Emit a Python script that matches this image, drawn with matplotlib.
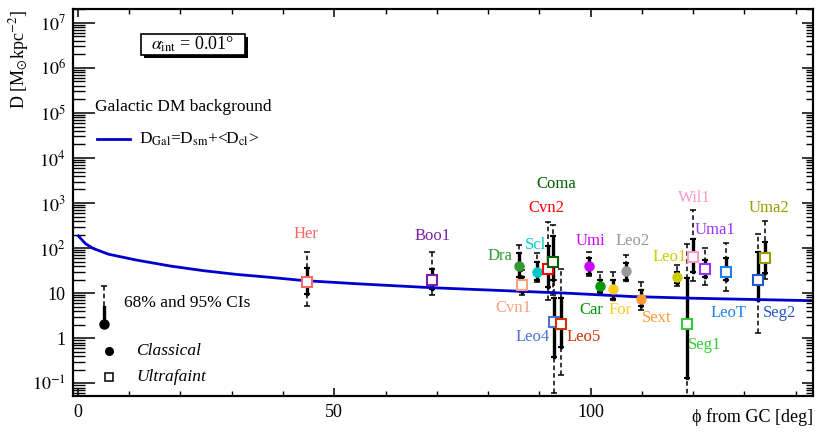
import numpy as np
import matplotlib
matplotlib.use("Agg")
import matplotlib.pyplot as plt
from matplotlib.lines import Line2D
from matplotlib.patches import Rectangle
from matplotlib.ticker import FixedLocator, FixedFormatter, NullFormatter

plt.rcParams['font.family'] = ['Liberation Serif', 'DejaVu Serif']
plt.rcParams['mathtext.fontset'] = 'stix'

# ---------------- data ----------------
gal_phi = [0.1, 1.5, 3, 6, 11.5, 18, 24.5, 31, 37.5, 44, 55, 69, 77, 96, 108, 120, 143]
gal_D = [186, 125, 98, 73, 54, 40, 31.5, 26, 22.4, 19, 16, 13.2, 12.1, 9.9, 8.4, 7.7, 6.8]

cl_names = ['Dra', 'Scl', 'Umi', 'Car', 'For', 'Leo2', 'Sext', 'Leo1']
cl_phi = [86.0, 89.5, 99.7, 101.9, 104.4, 106.9, 109.9, 116.9]
cl_D = [40, 29.4, 40, 14.4, 12.1, 31, 7.4, 22.4]
cl_lo68 = [23, 19.5, 27, 10.7, 7.4, 20, 5.2, 16.5]
cl_hi68 = [76, 49, 59, 19.5, 19.5, 46, 11.7, 30]
cl_lo95 = [20, 17.3, 24, 9.6, 7.0, 18.5, 4.2, 14.6]
cl_hi95 = [116, 76, 80, 29, 30, 69, 17.3, 43]
cl_colors = ['#339933', '#00C8C8', '#CC00FF', '#009900', '#FFCC22', '#999999', '#FF9933', '#CCCC00']

uf_names = ['Her', 'Boo1', 'Cvn1', 'Cvn2', 'Coma', 'Leo4', 'Leo5', 'Seg1', 'Wil1', 'Uma1', 'LeoT', 'Seg2', 'Uma2']
uf_phi = [44.6, 69.1, 86.7, 91.6, 92.7, 92.8, 94.2, 118.8, 119.9, 122.3, 126.4, 132.7, 134.0]
uf_D = [17.9, 19.2, 15.4, 34, 48, 2.26, 2.1, 2.04, 62, 34, 29.4, 19.5, 59]
uf_lo68 = [9.5, 12.3, 10.5, 14, 20, 0.39, 0.65, 0.13, 30, 22.4, 19.5, 7.0, 28]
uf_hi68 = [36.5, 34, 23, 110, 190, 7.7, 7.7, 22, 163, 54, 59, 80, 137]
uf_lo95 = [5.2, 9.1, 9.0, 7, 9, 0.06, 0.155, 0.04, 18.5, 15, 11.3, 1.29, 21]
uf_hi95 = [83, 80, 32, 380, 330, 20, 35, 126, 690, 100, 131, 204, 400]
uf_colors = ['#FF6666', '#7A1FA0', '#FFA07A', '#FF0000', '#006000', '#4A70D0', '#CC3300',
             '#33CC33', '#FF99CC', '#9933FF', '#1E80F0', '#2255CC', '#999900']

ytick_vals = [1e-1, 1, 10, 1e2, 1e3, 1e4, 1e5, 1e6, 1e7]
ytick_labels = ['$10^{-1}$', '1', '10', '$10^{2}$', '$10^{3}$', '$10^{4}$', '$10^{5}$', '$10^{6}$', '$10^{7}$']
xtick_vals = [0, 50, 100]
xtick_labels = ['0', '50', '100']

# label positions (pixels in figure)
label_px = {
    'Her': (306, 233.5), 'Boo1': (433, 236.5), 'Dra': (500, 256), 'Scl': (536, 245),
    'Coma': (556, 184.5), 'Cvn2': (546, 208), 'Umi': (590, 241), 'Leo2': (632.5, 241),
    'Cvn1': (513, 308), 'Leo4': (532.5, 337), 'Leo5': (583.5, 337), 'Car': (591, 310),
    'For': (620, 310), 'Sext': (656.5, 318), 'Leo1': (669.5, 257), 'Wil1': (694.5, 198),
    'Uma1': (715.5, 230), 'Uma2': (769, 208), 'Seg1': (705, 345), 'LeoT': (729, 313),
    'Seg2': (779.5, 313),
}

W, H = 830, 438
fig = plt.figure(figsize=(W / 100, H / 100), dpi=100)
L, R, T, B = 72.7, 812.7, 9.3, 396
ax = fig.add_axes([L / W, 1 - B / H, (R - L) / W, (B - T) / H])

def fp(x, y):
    return (x / W, 1 - y / H)

ax.set_xlim(-1, 143.3)
ax.set_yscale('log')
ax.set_ylim(0.052, 2.0e7)

# curve
ax.plot(gal_phi, gal_D, color='#0000CC', lw=2.0, zorder=3)

def draw_points(phi, D, lo68, hi68, lo95, hi95, colors, kind):
    for i in range(len(phi)):
        x = phi[i]
        ax.plot([x, x], [lo95[i], hi95[i]], color='black', lw=1.1, ls=(0, (3, 2)), zorder=2)
        ax.plot([x], [lo95[i]], marker='_', color='black', ms=4, mew=1.1, zorder=2)
        ax.plot([x], [hi95[i]], marker='_', color='black', ms=4, mew=1.1, zorder=2)
        ax.plot([x, x], [lo68[i], hi68[i]], color='black', lw=2.4, zorder=2.5)
        ax.plot([x], [lo68[i]], marker='_', color='black', ms=4, mew=1.5, zorder=2.5)
        ax.plot([x], [hi68[i]], marker='_', color='black', ms=4, mew=1.5, zorder=2.5)
        if kind == 'c':
            ax.plot([x], [D[i]], marker='o', ms=6.5, color=colors[i], mec=colors[i], zorder=5)
        else:
            ax.plot([x], [D[i]], marker='s', ms=6.5, mfc='white', mec=colors[i], mew=1.5, zorder=5)

draw_points(cl_phi, cl_D, cl_lo68, cl_hi68, cl_lo95, cl_hi95, cl_colors, 'c')
draw_points(uf_phi, uf_D, uf_lo68, uf_hi68, uf_lo95, uf_hi95, uf_colors, 'u')

for names, colors in ((cl_names, cl_colors), (uf_names, uf_colors)):
    for n, c in zip(names, colors):
        px, py = label_px[n]
        fx, fy = fp(px, py)
        fig.text(fx, fy, n, color=c, fontsize=12, ha='center', va='center')

# axes styling
for s in ax.spines.values():
    s.set_linewidth(1.5)
ax.yaxis.set_major_locator(FixedLocator(ytick_vals))
ax.yaxis.set_major_formatter(FixedFormatter(ytick_labels))
minors = [m * 10.0 ** e for e in range(-2, 8) for m in range(2, 10)]
ax.yaxis.set_minor_locator(FixedLocator(minors))
ax.yaxis.set_minor_formatter(NullFormatter())
ax.xaxis.set_major_locator(FixedLocator(xtick_vals))
ax.xaxis.set_major_formatter(FixedFormatter(xtick_labels))
ax.xaxis.set_minor_locator(FixedLocator(list(range(10, 143, 10))))
ax.tick_params(axis='y', which='major', direction='in', length=15.8, width=1.1, labelsize=13, pad=5, right=False)
ax.tick_params(axis='y', which='minor', direction='in', length=8.6, width=1.0, right=False)
ax.tick_params(axis='x', which='major', direction='in', length=6, width=1.1, labelsize=13, pad=6, top=True)
ax.tick_params(axis='x', which='minor', direction='in', length=3.8, width=1.0, top=True)

ax2 = ax.twinx()
ax2.set_yscale('log')
ax2.set_ylim(ax.get_ylim())
ax2.yaxis.set_major_locator(FixedLocator(ytick_vals))
ax2.yaxis.set_minor_locator(FixedLocator(minors))
ax2.yaxis.set_major_formatter(NullFormatter())
ax2.yaxis.set_minor_formatter(NullFormatter())
ax2.tick_params(axis='y', which='major', direction='in', length=8, width=1.1)
ax2.tick_params(axis='y', which='minor', direction='in', length=5, width=1.0)
for s in ax2.spines.values():
    s.set_linewidth(1.5)

# axis titles
fig.text(R / W, 1 - 417 / H, 'ϕ from GC [deg]', ha='right', va='center', fontsize=13)
fig.text(19 / W, 1 - 10 / H, r'D [M$_{\odot}$kpc$^{-2}$]', rotation=90, ha='center', va='top', fontsize=13)

# alpha box with shadow
bx0, by0, bx1, by1 = 141, 34, 245, 55
fig.patches.append(Rectangle(fp(bx0 + 3, by1 + 3), (bx1 - bx0) / W, (by1 - by0) / H,
                             transform=fig.transFigure, facecolor='black', edgecolor='black', lw=0, zorder=1))
fig.patches.append(Rectangle(fp(bx0, by1), (bx1 - bx0) / W, (by1 - by0) / H,
                             transform=fig.transFigure, facecolor='white', edgecolor='black', lw=1.2, zorder=2))
fx, fy = fp((bx0 + bx1) / 2, (by0 + by1) / 2)
fig.text(fx, fy, r'$\alpha_{\rm int}$ = 0.01°', ha='center', va='center', fontsize=13, zorder=3)

# galactic legend
fx, fy = fp(95, 107)
fig.text(fx, fy, 'Galactic DM background', ha='left', va='center', fontsize=12.5)
fig.lines.append(Line2D([97 / W, 130 / W], [1 - 139 / H, 1 - 139 / H], transform=fig.transFigure,
                        color='#0000CC', lw=2.0))
fx, fy = fp(139, 139)
fig.text(fx, fy, r'D$_{\rm Gal}$=D$_{\rm sm}$+<D$_{\rm cl}$>', ha='left', va='center', fontsize=12.5)

# CI legend
x0 = 104 / W
fig.lines.append(Line2D([x0, x0], [1 - 286 / H, 1 - 307 / H], transform=fig.transFigure,
                        color='black', lw=1.1, ls=(0, (3, 2))))
fig.lines.append(Line2D([x0], [1 - 286 / H], transform=fig.transFigure, marker='_', color='black', ms=4, mew=1.1))
fig.lines.append(Line2D([x0, x0], [1 - 307 / H, 1 - 324 / H], transform=fig.transFigure,
                        color='black', lw=2.4))
fig.lines.append(Line2D([x0], [1 - 324 / H], transform=fig.transFigure, marker='o', color='black', ms=6.5))
fx, fy = fp(124, 303)
fig.text(fx, fy, '68% and 95% CIs', ha='left', va='center', fontsize=12.5)
fig.lines.append(Line2D([109 / W], [1 - 351 / H], transform=fig.transFigure, marker='o', color='black', ms=5.5))
fig.text(136 / W, 1 - 351 / H, 'Classical', ha='left', va='center', fontsize=12.5, style='italic')
fig.lines.append(Line2D([109 / W], [1 - 377 / H], transform=fig.transFigure, marker='s', mfc='white',
                        mec='black', mew=1.1, ms=6))
fig.text(136 / W, 1 - 377 / H, 'Ultrafaint', ha='left', va='center', fontsize=12.5, style='italic')

fig.savefig('out.png', dpi=100)
